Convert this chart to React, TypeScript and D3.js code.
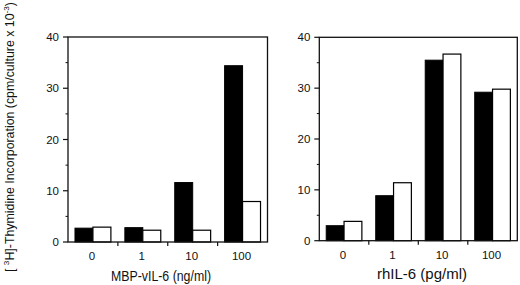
import React from "react";
import * as d3 from "d3";

const categories = ["0", "1", "10", "100"];
const seriesKeys = ["filled", "open"];
const mbpFilled = [2.7, 2.8, 11.6, 34.4];
const mbpOpen = [2.9, 2.3, 2.3, 7.9];
const rhFilled = [2.95, 8.85, 35.5, 29.2];
const rhOpen = [3.8, 11.4, 36.7, 29.8];
const yMajorTicks = [0, 10, 20, 30, 40];
const yMinorTicks = [5, 15, 25, 35];
const leftTitle = "MBP-vIL-6 (ng/ml)";
const rightTitle = "rhIL-6 (pg/ml)";

const FONT = "'Liberation Sans', Arial, sans-serif";

type PanelProps = {
  x0: number; x1: number; yTop: number; yBottom: number;
  filled: number[]; open: number[]; title: string; titleX: number; titleLen: number;
};

function Panel({ x0, x1, yTop, yBottom, filled, open, title, titleX, titleLen }: PanelProps) {
  const x = d3.scaleBand<string>().domain(categories).range([x0, x1]).padding(0);
  const bw = x.bandwidth();
  const inner = d3.scaleBand<string>().domain(seriesKeys).range([bw * 0.14, bw * 0.86]).padding(0);
  const y = d3.scaleLinear().domain([0, 40]).range([yBottom, yTop]);
  const boundaries = categories.slice(1).map((c) => x(c) as number);
  return (
    <g>
      {categories.map((c, i) => (
        <g key={c}>
          <rect x={(x(c) as number) + (inner("filled") as number)} y={y(filled[i])}
            width={inner.bandwidth()} height={y(0) - y(filled[i])} fill="#000" stroke="#000" strokeWidth={1} />
          <rect x={(x(c) as number) + (inner("open") as number)} y={y(open[i])}
            width={inner.bandwidth()} height={y(0) - y(open[i])} fill="#fff" stroke="#000" strokeWidth={1.2} />
        </g>
      ))}
      <rect x={x0} y={yTop} width={x1 - x0} height={yBottom - yTop} fill="none" stroke="#111" strokeWidth={1.3} />
      {yMajorTicks.map((t) => (
        <g key={t}>
          <line x1={x0 - 5} x2={x0} y1={y(t)} y2={y(t)} stroke="#111" strokeWidth={1.2} />
          <text x={x0 - 9} y={y(t) + 4} textAnchor="end" fontSize={11.5} fontFamily={FONT} fill="#111">{t}</text>
        </g>
      ))}
      {yMinorTicks.map((t) => (
        <line key={t} x1={x0 - 2.5} x2={x0} y1={y(t)} y2={y(t)} stroke="#111" strokeWidth={1} />
      ))}
      {boundaries.map((bx, i) => (
        <line key={i} x1={bx} x2={bx} y1={yBottom} y2={yBottom + 4} stroke="#111" strokeWidth={1.2} />
      ))}
      {categories.map((c) => (
        <text key={c} x={(x(c) as number) + bw / 2 - 1} y={yBottom + 18} textAnchor="middle"
          fontSize={11.5} fontFamily={FONT} fill="#111">{c}</text>
      ))}
      <text x={titleX} y={yBottom + 38.5} textAnchor="middle" fontSize={14} fontFamily={FONT} fill="#111"
        textLength={titleLen} lengthAdjust="spacingAndGlyphs">{title}</text>
    </g>
  );
}

export default function App() {
  return (
    <svg width={520} height={285} style={{ position: "absolute", left: 0, top: 0, background: "#fff" }}>
      <rect x={0} y={0} width={520} height={285} fill="#fff" />
      <Panel x0={68} x1={267.5} yTop={37} yBottom={242} filled={mbpFilled} open={mbpOpen}
        title={leftTitle} titleX={161} titleLen={100} />
      <Panel x0={319.3} x1={517.3} yTop={37.3} yBottom={240.7} filled={rhFilled} open={rhOpen}
        title={rightTitle} titleX={422} titleLen={90} />
      <text transform="translate(13.5,272) rotate(-90)" textAnchor="start" fontSize={12}
        fontFamily={FONT} fill="#111" textLength={270} lengthAdjust="spacingAndGlyphs">
        {"[ "}
        <tspan fontSize={8} dy={-5}>3</tspan>
        <tspan dy={5}>{"H]-Thymidine Incorporation (cpm/culture x 10"}</tspan>
        <tspan fontSize={8} dy={-5}>-3</tspan>
        <tspan dy={5}>)</tspan>
      </text>
    </svg>
  );
}
